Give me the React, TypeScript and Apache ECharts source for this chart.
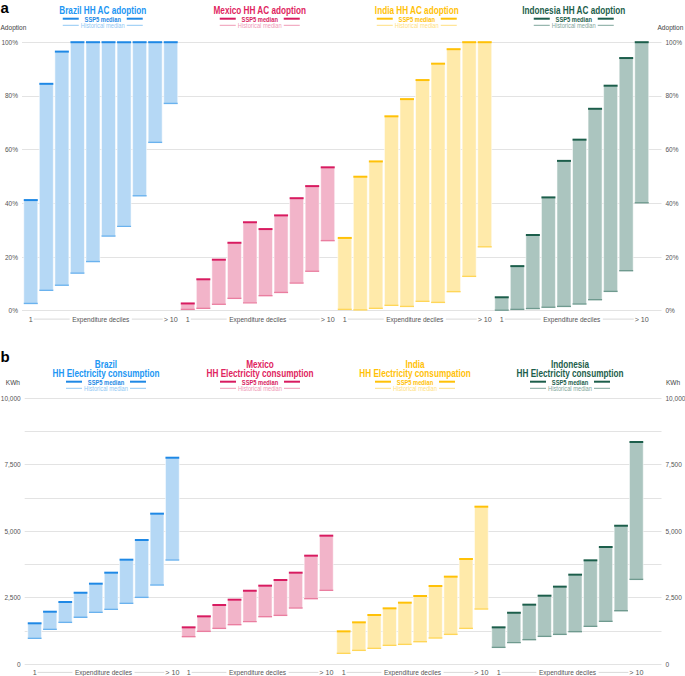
import React, { useEffect, useRef } from 'react';
import * as echarts from 'echarts';

const DECILES = ['1', '2', '3', '4', '5', '6', '7', '8', '9', '10'];
const AC_TITLES = ['Brazil HH AC adoption', 'Mexico HH AC adoption', 'India HH AC adoption', 'Indonesia HH AC adoption'];
const EL_TITLES = [
  ['Brazil', 'HH Electricity consumption'],
  ['Mexico', 'HH Electricity consumption'],
  ['India', 'HH Electricity consumpation'],
  ['Indonesia', 'HH Electricity consumption'],
];
const AC_TICKS = [0, 20, 40, 60, 80, 100];
const EL_TICKS = [0, 2500, 5000, 7500, 10000];

// AC adoption (%), historical median and SSP5 median per expenditure decile
const brazilAcHist = [2.7, 7.6, 9.5, 14.0, 18.3, 27.8, 31.4, 42.8, 62.7, 77.2];
const brazilAcSsp5 = [41.2, 84.5, 96.5, 100, 100, 100, 100, 100, 100, 100];
const mexicoAcHist = [0.5, 0.9, 2.4, 4.6, 2.9, 5.6, 6.8, 10.3, 14.7, 26.1];
const mexicoAcSsp5 = [2.7, 11.7, 19.0, 25.3, 32.9, 30.4, 35.5, 41.9, 46.4, 53.4];
const indiaAcHist = [0.5, 0.3, 0.9, 2.0, 1.6, 3.5, 3.1, 7.1, 12.8, 23.8];
const indiaAcSsp5 = [27.1, 49.9, 55.6, 72.4, 78.8, 85.9, 92.0, 97.4, 100, 100];
const indonesiaAcHist = [0.2, 0.5, 0.8, 1.3, 1.6, 2.5, 4.1, 7.2, 14.9, 40.2];
const indonesiaAcSsp5 = [5.0, 16.6, 28.2, 42.2, 55.8, 63.7, 75.2, 83.8, 94.1, 100];

// HH electricity consumption (kWh)
const brazilElHist = [967, 1305, 1568, 1757, 1945, 2058, 2284, 2509, 2973, 3914];
const brazilElSsp5 = [1532, 1968, 2333, 2685, 3023, 3437, 3926, 4667, 5658, 7764];
const mexicoElHist = [1029, 1229, 1342, 1480, 1593, 1781, 1831, 2108, 2459, 2773];
const mexicoElSsp5 = [1380, 1794, 2220, 2421, 2760, 2948, 3162, 3437, 4077, 4830];
const indiaElHist = [402, 514, 590, 703, 740, 840, 979, 1116, 1342, 2070];
const indiaElSsp5 = [1229, 1568, 1844, 2095, 2308, 2559, 2936, 3287, 3952, 5921];
const indonesiaElHist = [627, 803, 916, 1041, 1116, 1217, 1418, 1606, 2005, 3186];
const indonesiaElSsp5 = [1380, 1932, 2233, 2571, 2911, 3362, 3902, 4404, 5204, 8355];

const AC_HIST = [brazilAcHist, mexicoAcHist, indiaAcHist, indonesiaAcHist];
const AC_SSP5 = [brazilAcSsp5, mexicoAcSsp5, indiaAcSsp5, indonesiaAcSsp5];
const EL_HIST = [brazilElHist, mexicoElHist, indiaElHist, indonesiaElHist];
const EL_SSP5 = [brazilElSsp5, mexicoElSsp5, indiaElSsp5, indonesiaElSsp5];

const COLORS = [
  { title: '#2196f3', fill: '#b5d8f5', ssp: '#1e88e5', hist: '#6ab2ee', legHist: '#90c8f4' },
  { title: '#e0245e', fill: '#f2b4c9', ssp: '#d81b60', hist: '#ea7ea0', legHist: '#ef9ab6' },
  { title: '#ffc107', fill: '#ffeaaa', ssp: '#ffc107', hist: '#ffd658', legHist: '#ffdf80' },
  { title: '#1c5e4b', fill: '#abc5bf', ssp: '#1c5e4b', hist: '#6f9a8f', legHist: '#7fa69b' },
];

const FONT = "'Liberation Sans', Arial, sans-serif";
const NARROW = 0.82;

// layout
const W = 685, H = 676;
const A = { lefts: [23, 180, 337, 494], w: 155.5, top: 42.2, h: 268.5, bgLeft: 22, bgRight: 661.5 };
const B = { lefts: [27, 181, 336, 491], w: 153, top: 398.3, h: 265.7, bgLeft: 24.7, bgRight: 661.5 };

function renderBar(c: any) {
  return (params: any, api: any) => {
    const i = api.value(0);
    const lo = api.value(1);
    const hi = api.value(2);
    const pLo = api.coord([i, lo]);
    const pHi = api.coord([i, hi]);
    const w = api.size([1, 0])[0] * 0.9;
    const x0 = pLo[0] - w / 2;
    return {
      type: 'group',
      children: [
        { type: 'rect', shape: { x: x0, y: pHi[1], width: w, height: pLo[1] - pHi[1] }, style: { fill: c.fill, stroke: 'rgba(255,255,255,0.55)', lineWidth: 1 } },
        { type: 'rect', shape: { x: x0, y: pLo[1] - 0.7, width: w, height: 1.4 }, style: { fill: c.hist } },
        { type: 'rect', shape: { x: x0, y: pHi[1] - 1, width: w, height: 2 }, style: { fill: c.ssp } },
      ],
    };
  };
}

function txt(text: string, x: number, y: number, size: number, fill: string, align = 'center', weight = 'normal', extra: any = {}, sx = NARROW) {
  return {
    type: 'text',
    silent: true,
    x, y, scaleX: sx,
    style: {
      text, x: 0, y: 0, fill,
      font: `${weight} ${size}px ${FONT}`,
      align, textAlign: align, verticalAlign: 'middle', textVerticalAlign: 'middle',
      ...extra,
    },
  };
}
function ln(x1: number, y1: number, x2: number, y2: number, stroke: string, lineWidth: number) {
  return { type: 'line', silent: true, shape: { x1, y1, x2, y2 }, style: { stroke, lineWidth } };
}

export default function App() {
  const ref = useRef<HTMLDivElement>(null);
  useEffect(() => {
    document.body.style.margin = '0';
    if (!ref.current) return;
    const chart = echarts.init(ref.current, null, { renderer: 'svg' });

    const grids: any[] = [];
    const xAxes: any[] = [];
    const yAxes: any[] = [];
    const series: any[] = [];
    const graphics: any[] = [];

    const axisLabelStyle = { color: '#555', fontSize: 6.5, fontFamily: FONT };

    // background grids (gridlines + y labels)
    const panels = [
      { P: A, max: 100, interval: 20, fmt: (v: number) => (AC_TICKS.includes(v) ? v + '%' : '') },
      { P: B, max: 10000, interval: 1250, fmt: (v: number) => (EL_TICKS.includes(v) ? v.toLocaleString('en-US') : '') },
    ];
    panels.forEach((pn, pi) => {
      const P = pn.P;
      grids.push({ left: P.bgLeft, top: P.top, width: P.bgRight - P.bgLeft, height: P.h, outerBoundsMode: 'none', containLabel: false });
      xAxes.push({ type: 'value', gridIndex: pi, show: false, min: 0, max: 1 });
      yAxes.push({
        type: 'value', gridIndex: pi, position: 'left', min: 0, max: pn.max, interval: pn.interval,
        axisLine: { show: false }, axisTick: { show: false },
        axisLabel: { ...axisLabelStyle, margin: 4, formatter: pn.fmt },
        splitLine: { lineStyle: { color: '#e3e3e3', width: 1 } },
      });
      yAxes.push({
        type: 'value', gridIndex: pi, position: 'right', min: 0, max: pn.max, interval: pn.interval,
        axisLine: { show: false }, axisTick: { show: false },
        axisLabel: { ...axisLabelStyle, margin: 4, formatter: pn.fmt },
        splitLine: { show: false },
      });
    });

    const groupDefs = [
      { P: A, max: 100, hist: AC_HIST, ssp: AC_SSP5 },
      { P: B, max: 10000, hist: EL_HIST, ssp: EL_SSP5 },
    ];
    groupDefs.forEach((gd) => {
      for (let g = 0; g < 4; g++) {
        const gi = grids.length;
        grids.push({ left: gd.P.lefts[g], top: gd.P.top, width: gd.P.w, height: gd.P.h, outerBoundsMode: 'none', containLabel: false });
        xAxes.push({
          type: 'category', gridIndex: gi, data: DECILES,
          axisLine: { show: false }, axisTick: { show: false }, splitLine: { show: false },
          axisLabel: {
            interval: 0, margin: 4.8, color: '#555', fontSize: 7.2, fontFamily: FONT,
            formatter: (_v: string, idx: number) => (idx === 0 ? '1' : idx === 9 ? '> 10' : ''),
          },
        });
        const yi = yAxes.length;
        yAxes.push({ type: 'value', gridIndex: gi, min: 0, max: gd.max, show: false, splitLine: { show: false } });
        series.push({
          type: 'custom',
          xAxisIndex: gi,
          yAxisIndex: yi,
          renderItem: renderBar(COLORS[g]),
          encode: { x: 0, y: [1, 2] },
          data: gd.hist[g].map((h, i) => [i, h, gd.ssp[g][i]]),
          clip: false,
          silent: true,
        });
      }
    });

    // decile axis rows (line + text)
    [A, B].forEach((P) => {
      const y = P.top + P.h + 8.4;
      for (let g = 0; g < 4; g++) {
        const cw = P.w / 10;
        const c1 = P.lefts[g] + cw / 2;
        const c10 = P.lefts[g] + cw * 9.5;
        const cx = P.lefts[g] + P.w / 2;
        graphics.push(ln(c1 + 3, y, c10 - 8, y, '#cfcfcf', 0.8));
        graphics.push(txt('Expenditure deciles', cx, y, 8, '#555', 'center', 'normal', { backgroundColor: '#fff', padding: [1, 3] }));
      }
    });

    // titles + legends
    for (let g = 0; g < 4; g++) {
      const c = COLORS[g];
      // panel a
      {
        const cx = A.lefts[g] + A.w / 2 + 2;
        graphics.push(txt(AC_TITLES[g], cx, 11, 10, c.title, 'center', 'bold'));
        graphics.push(ln(cx - 40, 18.7, cx - 24, 18.7, c.ssp, 2));
        graphics.push(ln(cx + 24, 18.7, cx + 40, 18.7, c.ssp, 2));
        graphics.push(txt('SSP5 median', cx, 18.9, 7, c.ssp, 'center', 'bold'));
        graphics.push(ln(cx - 40, 25.3, cx - 24, 25.3, c.legHist, 1));
        graphics.push(ln(cx + 24, 25.3, cx + 40, 25.3, c.legHist, 1));
        graphics.push(txt('Historical median', cx, 25.5, 7, c.legHist, 'center', 'normal'));
      }
      // panel b
      {
        const cx = B.lefts[g] + B.w / 2 + 2.5;
        graphics.push(txt(EL_TITLES[g][0] + '\n' + EL_TITLES[g][1], cx, 368.9, 10, c.title, 'center', 'bold', { lineHeight: 9.3 }));
        graphics.push(ln(cx - 40, 381.7, cx - 24, 381.7, c.ssp, 2));
        graphics.push(ln(cx + 24, 381.7, cx + 40, 381.7, c.ssp, 2));
        graphics.push(txt('SSP5 median', cx, 381.9, 7, c.ssp, 'center', 'bold'));
        graphics.push(ln(cx - 40, 388.3, cx - 24, 388.3, c.legHist, 1));
        graphics.push(ln(cx + 24, 388.3, cx + 40, 388.3, c.legHist, 1));
        graphics.push(txt('Historical median', cx, 388.5, 7, c.legHist, 'center', 'normal'));
      }
    }

    // panel letters + axis names
    graphics.push(txt('a', 0.5, 7, 15, '#000', 'left', 'bold', {}, 1));
    graphics.push(txt('b', 0.5, 356.5, 15, '#000', 'left', 'bold', {}, 1));
    graphics.push(txt('Adoption', 0.5, 27.7, 8, '#444', 'left'));
    graphics.push(txt('Adoption', 657.5, 27.7, 8, '#444', 'left'));
    graphics.push(txt('KWh', 20, 382.3, 8, '#444', 'right'));
    graphics.push(txt('KWh', 666, 382.3, 8, '#444', 'left'));

    chart.setOption({
      animation: false,
      backgroundColor: '#fff',
      grid: grids,
      xAxis: xAxes,
      yAxis: yAxes,
      series,
      graphic: { elements: graphics },
    });
    return () => chart.dispose();
  }, []);
  return <div ref={ref} style={{ width: W, height: H }} />;
}
